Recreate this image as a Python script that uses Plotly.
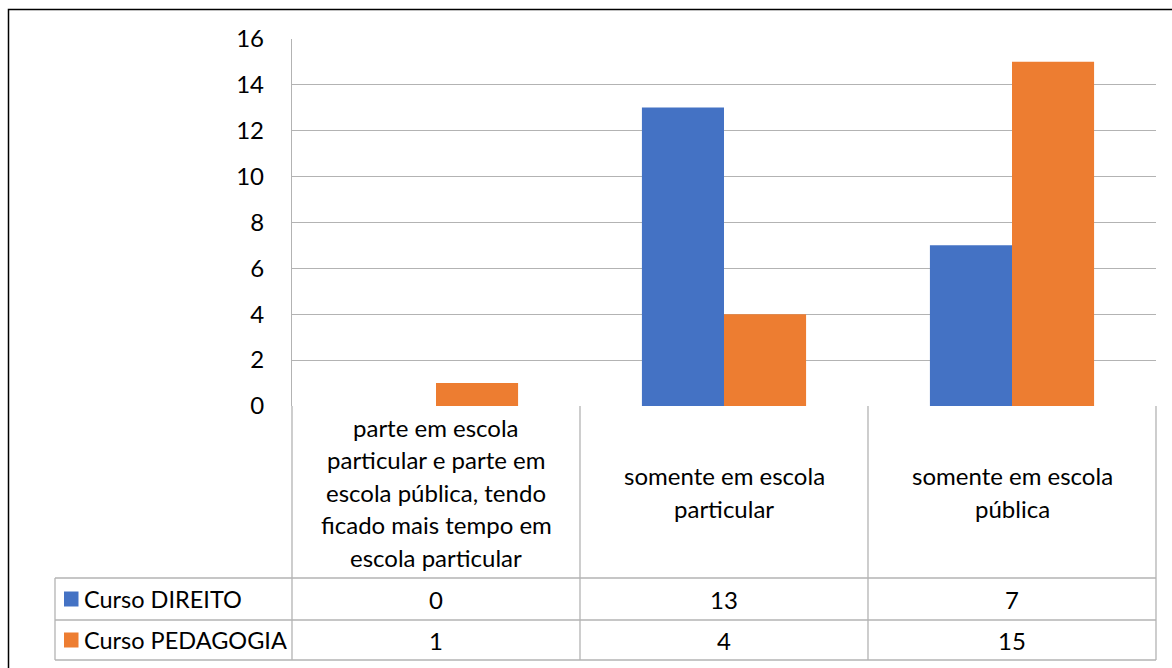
import plotly.graph_objects as go

categories = [
    "parte em escola\nparticular e parte em\nescola pública, tendo\nficado mais tempo em\nescola particular",
    "somente em escola\nparticular",
    "somente em escola\npública",
]
series_names = ["Curso DIREITO", "Curso PEDAGOGIA"]
direito = [0, 13, 7]
pedagogia = [1, 4, 15]
y_ticks = [0, 2, 4, 6, 8, 10, 12, 14, 16]

colors = ["#4472C4", "#ED7D31"]
W, H = 1172, 668
FONT = "Lato, Calibri, Carlito, sans-serif"
FS = 24
TXT = "#000000"
GRID = "#b3b3b3"

# pixel geometry
PL, PR = 292, 1156   # plot left/right
PT, PB = 38.7, 406   # plot top/bottom
TL = 55              # table left
R1, R2, R3 = 578, 620, 660  # table row lines


def px(x):
    return x / W


def py(y):
    return 1 - y / H


fig = go.Figure()
for name, vals, c in zip(series_names, [direito, pedagogia], colors):
    fig.add_trace(go.Bar(x=list(range(len(categories))), y=vals, name=name,
                         marker=dict(color=c, line=dict(width=0))))

shapes = []
# outer border
shapes.append(dict(type="rect", xref="paper", yref="paper",
                   x0=px(8.5), x1=px(W + 20), y0=py(H + 20), y1=py(9.5),
                   line=dict(color="#000000", width=1.5), fillcolor="rgba(0,0,0,0)", layer="below"))


def line(x0, y0, x1, y1):
    shapes.append(dict(type="line", xref="paper", yref="paper",
                       x0=px(x0), x1=px(x1), y0=py(y0), y1=py(y1),
                       line=dict(color=GRID, width=1.3)))


ncat = len(categories)
cw = (PR - PL) / ncat
# vertical table lines
for i in range(ncat + 1):
    line(PL + i * cw, PB, PL + i * cw, R3)
line(TL, R1, TL, R3)
# horizontal table lines
for yy in [R1, R2, R3]:
    line(TL, yy, PR, yy)

annotations = []
# category labels
lh = 32.5
for i, cat in enumerate(categories):
    lines = cat.split("\n")
    n = len(lines)
    cy = (PB + R1) / 2
    for j, t in enumerate(lines):
        yy = cy + (j - (n - 1) / 2) * lh
        annotations.append(dict(x=px(PL + (i + 0.5) * cw), y=py(yy), xref="paper", yref="paper",
                                text=t, showarrow=False, xanchor="center", yanchor="middle",
                                font=dict(family=FONT, size=FS, color=TXT)))

# data table rows
for r, (name, vals, c) in enumerate(zip(series_names, [direito, pedagogia], colors)):
    y0, y1 = [(R1, R2), (R2, R3)][r]
    cy = (y0 + y1) / 2
    shapes.append(dict(type="rect", xref="paper", yref="paper",
                       x0=px(64), x1=px(78.5), y0=py(cy + 7.5), y1=py(cy - 7.5),
                       fillcolor=c, line=dict(width=0)))
    annotations.append(dict(x=px(82), y=py(cy), xref="paper", yref="paper",
                            text=name, showarrow=False, xanchor="left", yanchor="middle",
                            font=dict(family=FONT, size=FS - 0.5, color=TXT)))
    for i, v in enumerate(vals):
        annotations.append(dict(x=px(PL + (i + 0.5) * cw), y=py(cy), xref="paper", yref="paper",
                                text=str(v), showarrow=False, xanchor="center", yanchor="middle",
                                font=dict(family=FONT, size=FS, color=TXT)))

fig.update_layout(
    width=W, height=H, autosize=False,
    margin=dict(l=0, r=0, t=0, b=0, pad=0, autoexpand=False),
    paper_bgcolor="#ffffff", plot_bgcolor="#ffffff",
    barmode="group", bargap=0.43, bargroupgap=0,
    showlegend=False,
    shapes=shapes,
    annotations=annotations,
    xaxis=dict(domain=[px(PL), px(PR)], range=[-0.5, ncat - 0.5], automargin=False,
               showticklabels=False, showgrid=False, zeroline=False,
               showline=False, ticks=""),
    yaxis=dict(domain=[py(PB), py(PT)], range=[0, 16], tickvals=y_ticks, automargin=False,
               showgrid=True, gridcolor=GRID, gridwidth=1.3,
               zeroline=False, showline=True, linecolor=GRID, linewidth=1.3,
               ticks="", ticklabelstandoff=22,
               tickfont=dict(family=FONT, size=FS, color=TXT)),
)

fig.write_html(
    "out.html",
    config={"displayModeBar": False, "responsive": False},
    post_script="document.body.style.margin='0';document.body.style.padding='0';"
                "document.documentElement.style.overflow='hidden';document.body.style.overflow='hidden';",
)
